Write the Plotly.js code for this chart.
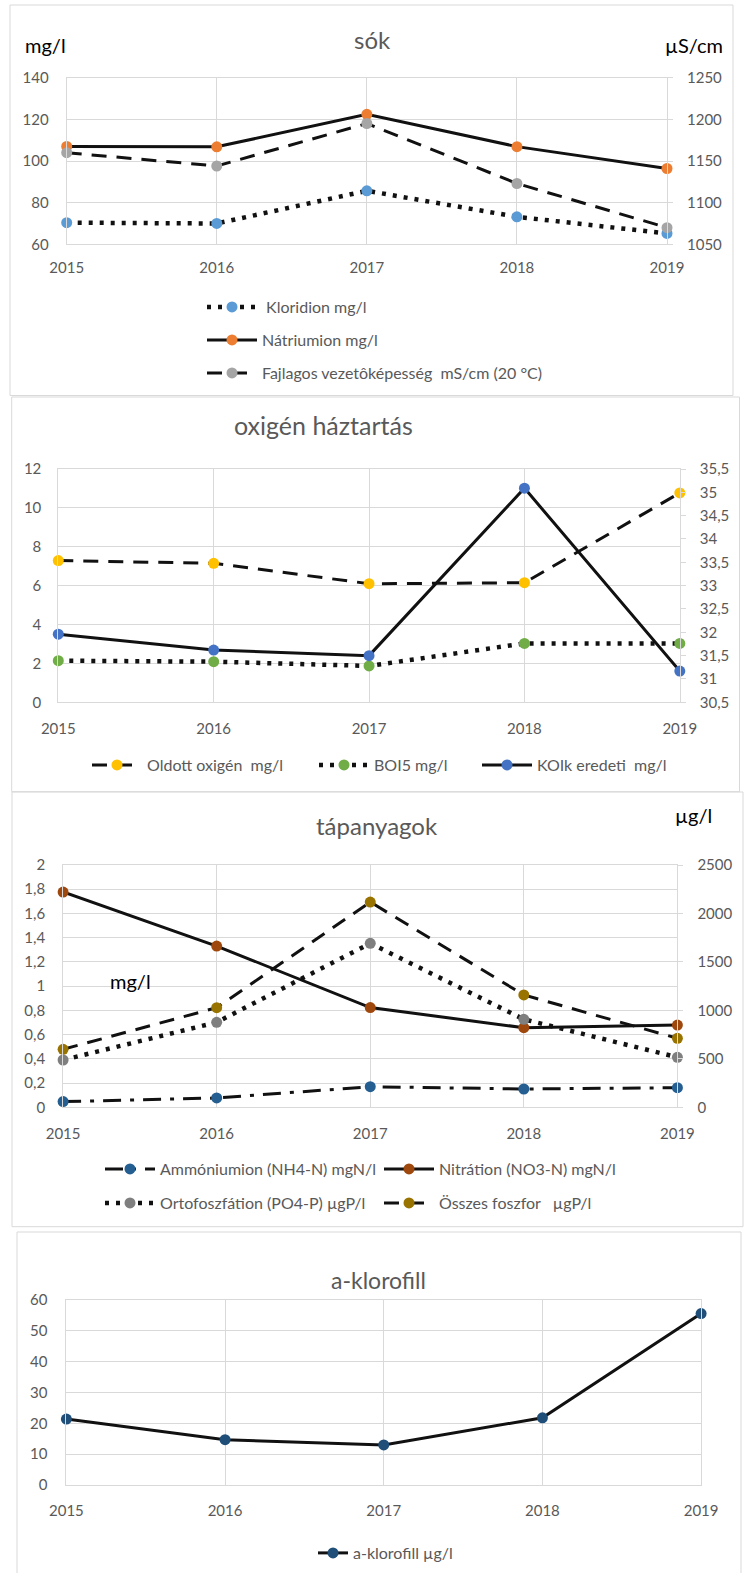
<!DOCTYPE html>
<html>
<head>
<meta charset="utf-8">
<script src="https://cdn.plot.ly/plotly-3.0.1.min.js"></script>
<style>
html,body{margin:0;padding:0;background:#fff;}
#chart{width:744px;height:1573px;}
</style>
</head>
<body>
<div id="chart"></div>
<script>
// ---- data ----
const years = [2015, 2016, 2017, 2018, 2019];
const yearLabels = ['2015', '2016', '2017', '2018', '2019'];

// sók
const kloridion = [70.4, 70.0, 85.7, 73.2, 65.2];
const natriumion = [107.0, 106.8, 122.4, 106.9, 96.4];
const vezetokepesseg = [1160, 1144, 1195, 1123, 1070];

// oxigén háztartás
const oldottOxigen = [7.29, 7.15, 6.10, 6.15, 10.77];
const boi5 = [2.14, 2.09, 1.87, 3.03, 3.03];
const koik = [31.96, 31.62, 31.50, 35.09, 31.17];

// tápanyagok
const ammonium = [0.047, 0.077, 0.170, 0.151, 0.162];
const nitrat = [1.777, 1.331, 0.823, 0.657, 0.679];
const ortofoszfat = [488, 877, 1692, 908, 516];
const osszesFoszfor = [598, 1028, 2118, 1159, 712];

// a-klorofill
const klorofill = [21.4, 14.7, 13.0, 21.8, 55.6];

// ---- helpers ----
const W = 744, H = 1573;
const fx = p => p / W;
const fy = p => 1 - p / H;
const GRID = '#d9d9d9';
const TXT = '#595959';
const FONT = 'Lato, "Noto Sans", sans-serif';

function tr(y, name, color, dash, xa, ya, lg, width) {
  return {
    x: years, y: y, name: name, type: 'scatter', mode: 'lines+markers',
    xaxis: xa, yaxis: ya, legend: lg, cliponaxis: false,
    line: {color: '#111111', width: width || 3, dash: dash},
    marker: {color: color, size: 11}
  };
}

const DOT = '4px,7px';
const DASH = '15px,10px';
const DASHDOT = '18px,9px,4px,9px';

const traces = [
  tr(kloridion, '\u00a0Kloridion mg/l', '#5B9BD5', DOT, 'x', 'y', 'legend', 4.5),
  tr(natriumion, 'Nátriumion mg/l', '#ED7D31', 'solid', 'x', 'y', 'legend2'),
  tr(vezetokepesseg, 'Fajlagos vezetôképesség\u00a0\u00a0mS/cm (20 °C)', '#A5A5A5', DASH, 'x', 'y5', 'legend3'),

  tr(oldottOxigen, 'Oldott oxigén\u00a0\u00a0mg/l', '#FFC000', DASH, 'x2', 'y2', 'legend4'),
  tr(boi5, 'BOI5 mg/l', '#70AD47', DOT, 'x2', 'y2', 'legend5', 4.5),
  tr(koik, 'KOIk eredeti\u00a0\u00a0mg/l', '#4472C4', 'solid', 'x2', 'y6', 'legend6'),

  tr(ammonium, 'Ammóniumion (NH4-N) mgN/l', '#255E91', DASHDOT, 'x3', 'y3', 'legend7'),
  tr(nitrat, 'Nitrátion (NO3-N) mgN/l', '#9E480E', 'solid', 'x3', 'y3', 'legend8'),
  tr(ortofoszfat, 'Ortofoszfátion (PO4-P) µgP/l', '#7F7F7F', DOT, 'x3', 'y7', 'legend9', 4.5),
  tr(osszesFoszfor, 'Összes foszfor\u00a0\u00a0\u00a0µgP/l', '#997300', DASH, 'x3', 'y7', 'legend10'),

  tr(klorofill, 'a-klorofill µg/l', '#1F4E79', 'solid', 'x4', 'y4', 'legend11')
];

function xax(l, r, anchor, standoff) {
  return {
    domain: [fx(l), fx(r)], range: [2015, 2019], anchor: anchor,
    tickvals: years, ticktext: yearLabels,
    showgrid: true, gridcolor: GRID, gridwidth: 1,
    showline: true, linecolor: GRID, mirror: true, zeroline: false,
    ticks: '', tickfont: {family: FONT, size: 15, color: TXT},
    ticklabelstandoff: standoff, fixedrange: true
  };
}
function yax(top, bot, range, dtick, anchor, standoff) {
  return {
    domain: [fy(bot), fy(top)], range: range, dtick: dtick, tick0: 0, anchor: anchor,
    showgrid: true, gridcolor: GRID, gridwidth: 1,
    showline: true, linecolor: GRID, mirror: true, zeroline: false,
    ticks: '', tickfont: {family: FONT, size: 15, color: TXT},
    ticklabelstandoff: standoff, fixedrange: true
  };
}
function yright(over, anchor, range, dtick) {
  return {
    overlaying: over, side: 'right', anchor: anchor, range: range, dtick: dtick, tick0: 0,
    showgrid: false, zeroline: false, showline: false,
    ticks: 'outside', ticklen: 5, tickcolor: GRID,
    tickfont: {family: FONT, size: 15, color: TXT},
    ticklabelstandoff: 11, fixedrange: true
  };
}

function leg(xpx, ypx, w) {
  return {
    x: fx(xpx), y: fy(ypx), xref: 'paper', yref: 'paper',
    xanchor: 'left', yanchor: 'middle', orientation: 'h',
    bgcolor: 'rgba(0,0,0,0)', borderwidth: 0,
    itemwidth: w || 50,
    font: {family: FONT, size: 16, color: TXT}
  };
}

function title(text, xpx, ypx, size, color) {
  return {
    text: text, x: fx(xpx), y: fy(ypx), xref: 'paper', yref: 'paper',
    xanchor: 'center', yanchor: 'middle', showarrow: false,
    font: {family: FONT, size: size, color: color}
  };
}

function frame(l, t, r, b) {
  return {type: 'rect', xref: 'paper', yref: 'paper',
    x0: fx(l), x1: fx(r), y0: fy(b), y1: fy(t),
    line: {color: GRID, width: 1}, fillcolor: 'rgba(0,0,0,0)', layer: 'below'};
}

const layout = {
  width: W, height: H,
  margin: {l: 0, r: 0, t: 0, b: 0, pad: 0},
  paper_bgcolor: '#ffffff', plot_bgcolor: 'rgba(0,0,0,0)',
  font: {family: FONT, color: TXT, size: 15},
  separators: ', ',
  showlegend: true,
  xaxis: xax(66.7, 667, 'y', 10),
  yaxis: yax(77.7, 244.3, [60, 140], 20, 'x', 14),
  yaxis5: yright('y', 'x', [1050, 1250], 50),

  xaxis2: xax(58.3, 679.8, 'y2', 13),
  yaxis2: yax(469, 702.3, [0, 12], 2, 'x2', 13),
  yaxis6: yright('y2', 'x2', [30.5, 35.5], 0.5),

  xaxis3: xax(63.1, 677.4, 'y3', 13),
  yaxis3: yax(865, 1107.3, [0, 2], 0.2, 'x3', 14),
  yaxis7: yright('y3', 'x3', [0, 2500], 500),

  xaxis4: xax(66.4, 701.1, 'y4', 12),
  yaxis4: yax(1300, 1485, [0, 60], 10, 'x4', 15),

  legend: leg(202, 307),
  legend2: leg(202, 340),
  legend3: leg(202, 373),
  legend4: leg(87, 765),
  legend5: leg(314, 765),
  legend6: leg(477, 765),
  legend7: leg(100, 1169),
  legend8: leg(379, 1169),
  legend9: leg(100, 1203),
  legend10: leg(379, 1203),
  legend11: leg(313, 1553, 30),

  annotations: [
    title('sók', 372, 39, 24, TXT),
    title('mg/l', 45, 45, 20, '#000000'),
    title('µS/cm', 694, 45, 20, '#000000'),
    title('oxigén háztartás', 323, 425, 25, TXT),
    title('tápanyagok', 377, 825, 24, TXT),
    title('µg/l', 693, 815, 20, '#000000'),
    title('mg/l', 130, 981, 20, '#000000'),
    title('a-klorofill', 378, 1280, 23, TXT)
  ],
  shapes: [
    frame(10, 5, 733, 395.5),
    frame(11.7, 397, 739.5, 791.7),
    frame(12, 792, 743, 1226.7),
    frame(17, 1232, 741, 1580)
  ]
};

Plotly.newPlot('chart', traces, layout, {displayModeBar: false, staticPlot: true});
</script>
</body>
</html>
